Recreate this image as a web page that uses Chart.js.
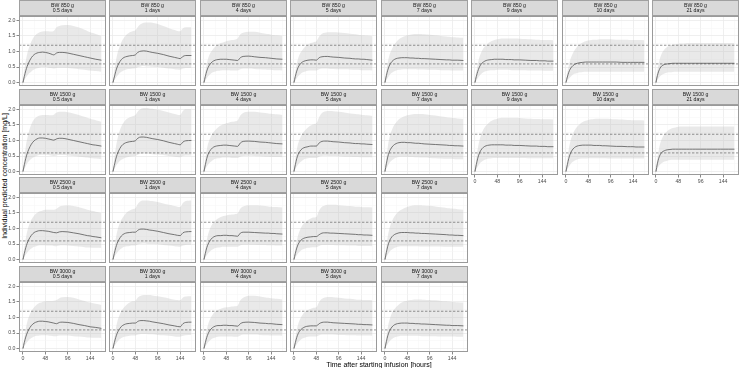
<!DOCTYPE html>
<html><head><meta charset="utf-8">
<script src="https://cdn.jsdelivr.net/npm/chart.js@4"></script>
<style>
html,body{margin:0;padding:0;background:#fff;width:740px;height:368px;overflow:hidden;font-family:"Liberation Sans",Arial,sans-serif;}
#wrap{position:relative;width:740px;height:368px;}
.strip{position:absolute;box-sizing:border-box;background:#d9d9d9;border:1px solid #a0a0a0;display:flex;flex-direction:column;justify-content:center;align-items:center;font-size:5.2px;line-height:5.4px;color:#1a1a1a;white-space:nowrap;will-change:transform;}
canvas{position:absolute;}
.ytitle{position:absolute;left:4px;top:175.5px;transform:translate(-50%,-50%) rotate(-90deg);font-size:7px;white-space:nowrap;color:#000;}
.xtitle{position:absolute;left:379px;top:363.5px;transform:translate(-50%,-50%);font-size:7px;white-space:nowrap;color:#000;will-change:transform;}
</style></head>
<body><div id="wrap">
<div class="ytitle">Individual predicted concentration [mg/L]</div>
<div class="xtitle">Time after starting infusion [hours]</div>
</div>
<script>
// ---- data ----
const hours = [0,3,6,9,12,18,24,30,36,42,48,54,60,66,72,78,84,96,108,120,132,138,144,150,156,168];
const xMajor = [0,48,96,144];
const xMinor = [24,72,120,168];
const yMajor = [0,0.5,1,1.5,2];
const yMinor = [0.25,0.75,1.25,1.75];
const targetLevels = [0.6,1.2];
const weights = ['850','1500','2500','3000'];
const ages = ['0.5','1','4','5','7','9','10','21'];
const xLimits = [-8.5,178];
const yLimits = [-0.11,2.14];

const med850_05=[0,0.2,0.38,0.52,0.63,0.8,0.9,0.95,0.97,0.98,0.97,0.95,0.92,0.89,0.95,0.97,0.97,0.95,0.91,0.87,0.83,0.81,0.79,0.77,0.75,0.72];
const upr850_05=[0.05,0.4,0.7,0.92,1.08,1.32,1.48,1.57,1.62,1.64,1.65,1.65,1.64,1.66,1.78,1.82,1.84,1.85,1.82,1.77,1.7,1.66,1.62,1.59,1.56,1.5];
const lwr850_05=[0,0.08,0.16,0.22,0.28,0.36,0.42,0.46,0.48,0.49,0.49,0.48,0.47,0.45,0.47,0.48,0.48,0.47,0.45,0.43,0.41,0.4,0.39,0.38,0.37,0.35];
const med850_1=[0,0.18,0.36,0.5,0.6,0.74,0.81,0.84,0.86,0.87,0.89,0.98,1.01,1.02,1.01,0.99,0.97,0.94,0.9,0.85,0.81,0.79,0.77,0.84,0.87,0.87];
const upr850_1=[0.05,0.38,0.68,0.9,1.06,1.3,1.45,1.55,1.62,1.65,1.68,1.8,1.88,1.92,1.93,1.93,1.92,1.88,1.82,1.75,1.69,1.66,1.65,1.75,1.78,1.78];
const lwr850_1=[0,0.08,0.15,0.21,0.27,0.35,0.4,0.43,0.44,0.45,0.46,0.5,0.52,0.53,0.52,0.52,0.51,0.5,0.48,0.45,0.43,0.42,0.41,0.45,0.47,0.47];
const med850_4=[0,0.2,0.37,0.49,0.57,0.67,0.72,0.74,0.75,0.75,0.75,0.74,0.73,0.72,0.71,0.8,0.84,0.85,0.83,0.81,0.8,0.79,0.78,0.77,0.76,0.75];
const upr850_4=[0.05,0.35,0.6,0.78,0.9,1.05,1.15,1.22,1.27,1.3,1.33,1.35,1.37,1.38,1.42,1.55,1.6,1.63,1.63,1.6,1.57,1.56,1.54,1.53,1.52,1.5];
const lwr850_4=[0,0.07,0.14,0.2,0.25,0.32,0.36,0.38,0.39,0.4,0.4,0.4,0.39,0.39,0.39,0.43,0.45,0.45,0.44,0.43,0.42,0.41,0.41,0.4,0.4,0.39];
const med850_5=[0,0.2,0.37,0.49,0.57,0.66,0.7,0.72,0.73,0.73,0.72,0.8,0.83,0.84,0.84,0.83,0.82,0.81,0.79,0.78,0.76,0.76,0.75,0.75,0.74,0.72];
const upr850_5=[0.05,0.35,0.6,0.78,0.9,1.05,1.15,1.22,1.27,1.3,1.33,1.48,1.57,1.6,1.62,1.62,1.62,1.61,1.59,1.57,1.55,1.54,1.53,1.52,1.51,1.49];
const lwr850_5=[0,0.07,0.14,0.2,0.25,0.32,0.36,0.38,0.39,0.39,0.39,0.43,0.45,0.45,0.45,0.44,0.44,0.43,0.43,0.42,0.41,0.41,0.4,0.4,0.4,0.39];
const med850_7=[0,0.22,0.4,0.53,0.62,0.72,0.77,0.79,0.8,0.8,0.8,0.79,0.79,0.78,0.78,0.77,0.77,0.76,0.75,0.74,0.73,0.73,0.72,0.72,0.72,0.71];
const upr850_7=[0.05,0.38,0.65,0.85,0.98,1.17,1.3,1.39,1.45,1.49,1.52,1.54,1.55,1.56,1.56,1.56,1.55,1.54,1.52,1.5,1.48,1.47,1.46,1.46,1.45,1.44];
const lwr850_7=[0,0.08,0.15,0.22,0.28,0.35,0.39,0.41,0.42,0.43,0.43,0.43,0.43,0.43,0.42,0.42,0.42,0.41,0.41,0.4,0.4,0.4,0.39,0.39,0.39,0.39];
const med850_9=[0,0.2,0.36,0.48,0.57,0.66,0.71,0.73,0.74,0.75,0.75,0.75,0.75,0.74,0.74,0.74,0.73,0.73,0.72,0.71,0.71,0.7,0.7,0.7,0.69,0.69];
const upr850_9=[0.05,0.35,0.6,0.79,0.92,1.1,1.21,1.29,1.34,1.37,1.39,1.41,1.42,1.42,1.42,1.42,1.42,1.41,1.4,1.39,1.38,1.38,1.37,1.37,1.37,1.36];
const lwr850_9=[0,0.07,0.14,0.2,0.26,0.33,0.37,0.39,0.4,0.4,0.41,0.41,0.41,0.41,0.41,0.4,0.4,0.4,0.4,0.39,0.39,0.39,0.39,0.38,0.38,0.38];
const med850_10=[0,0.18,0.33,0.43,0.5,0.58,0.62,0.64,0.65,0.66,0.66,0.66,0.66,0.66,0.66,0.66,0.66,0.66,0.66,0.65,0.65,0.65,0.65,0.65,0.65,0.65];
const upr850_10=[0.05,0.32,0.55,0.72,0.85,1.03,1.15,1.23,1.29,1.33,1.35,1.37,1.38,1.38,1.39,1.39,1.39,1.39,1.38,1.38,1.38,1.37,1.37,1.37,1.37,1.36];
const lwr850_10=[0,0.06,0.12,0.17,0.22,0.28,0.31,0.33,0.34,0.35,0.35,0.35,0.35,0.35,0.35,0.35,0.35,0.35,0.35,0.35,0.35,0.35,0.35,0.35,0.35,0.35];
const med850_21=[0,0.22,0.37,0.47,0.53,0.58,0.6,0.61,0.62,0.62,0.62,0.62,0.62,0.62,0.62,0.62,0.62,0.62,0.62,0.62,0.62,0.62,0.62,0.62,0.62,0.62];
const upr850_21=[0.05,0.38,0.62,0.8,0.92,1.06,1.14,1.19,1.22,1.24,1.25,1.26,1.26,1.27,1.27,1.27,1.27,1.27,1.27,1.27,1.27,1.27,1.27,1.27,1.27,1.27];
const lwr850_21=[0,0.08,0.15,0.2,0.24,0.29,0.32,0.33,0.34,0.35,0.35,0.35,0.35,0.35,0.35,0.35,0.35,0.35,0.35,0.35,0.35,0.35,0.35,0.35,0.35,0.35];

const med1500_05=[0,0.22,0.42,0.58,0.7,0.88,0.99,1.05,1.08,1.08,1.07,1.05,1.03,1.01,1.05,1.07,1.07,1.04,1.0,0.96,0.92,0.9,0.88,0.86,0.85,0.82];
const upr1500_05=[0.06,0.45,0.8,1.05,1.25,1.52,1.68,1.76,1.8,1.82,1.82,1.82,1.81,1.83,1.9,1.92,1.92,1.91,1.87,1.82,1.76,1.73,1.7,1.67,1.65,1.6];
const lwr1500_05=[0,0.09,0.18,0.26,0.32,0.41,0.47,0.51,0.53,0.54,0.54,0.53,0.52,0.5,0.52,0.53,0.53,0.52,0.5,0.48,0.46,0.45,0.44,0.43,0.42,0.4];
const med1500_1=[0,0.2,0.4,0.55,0.66,0.82,0.9,0.94,0.96,0.97,0.99,1.08,1.11,1.11,1.1,1.08,1.06,1.03,0.99,0.94,0.9,0.88,0.86,0.95,0.99,1.0];
const upr1500_1=[0.06,0.42,0.76,1.0,1.2,1.45,1.6,1.7,1.75,1.78,1.82,1.95,2.02,2.04,2.04,2.03,2.02,1.99,1.95,1.9,1.85,1.83,1.82,1.95,2.0,2.0];
const lwr1500_1=[0,0.09,0.17,0.24,0.3,0.38,0.43,0.46,0.48,0.49,0.5,0.55,0.57,0.58,0.57,0.57,0.56,0.55,0.53,0.5,0.48,0.47,0.46,0.5,0.52,0.52];
const med1500_4=[0,0.22,0.42,0.56,0.65,0.76,0.81,0.83,0.84,0.85,0.85,0.84,0.83,0.82,0.81,0.92,0.97,0.98,0.97,0.95,0.94,0.93,0.92,0.91,0.9,0.89];
const upr1500_4=[0.06,0.4,0.7,0.9,1.03,1.22,1.33,1.42,1.48,1.52,1.55,1.58,1.6,1.61,1.64,1.8,1.88,1.92,1.92,1.9,1.88,1.87,1.86,1.85,1.84,1.82];
const lwr1500_4=[0,0.08,0.16,0.23,0.28,0.36,0.41,0.43,0.44,0.45,0.45,0.45,0.44,0.44,0.44,0.48,0.5,0.51,0.5,0.49,0.48,0.48,0.47,0.47,0.47,0.46];
const med1500_5=[0,0.22,0.42,0.55,0.64,0.74,0.78,0.8,0.82,0.82,0.82,0.92,0.97,0.98,0.98,0.97,0.96,0.95,0.93,0.92,0.9,0.9,0.89,0.89,0.88,0.87];
const upr1500_5=[0.06,0.4,0.7,0.9,1.03,1.22,1.33,1.42,1.48,1.52,1.55,1.75,1.88,1.93,1.95,1.95,1.94,1.92,1.9,1.87,1.85,1.84,1.83,1.82,1.81,1.79];
const lwr1500_5=[0,0.08,0.16,0.23,0.28,0.36,0.41,0.43,0.44,0.44,0.44,0.48,0.5,0.51,0.51,0.5,0.5,0.49,0.48,0.48,0.47,0.47,0.46,0.46,0.46,0.45];
const med1500_7=[0,0.25,0.47,0.62,0.72,0.84,0.9,0.93,0.94,0.94,0.93,0.93,0.92,0.91,0.91,0.9,0.89,0.88,0.87,0.86,0.85,0.84,0.84,0.83,0.83,0.82];
const upr1500_7=[0.06,0.45,0.8,1.05,1.22,1.45,1.58,1.68,1.74,1.78,1.81,1.83,1.84,1.85,1.85,1.85,1.84,1.82,1.8,1.77,1.75,1.74,1.73,1.72,1.71,1.69];
const lwr1500_7=[0,0.09,0.18,0.26,0.32,0.4,0.45,0.47,0.48,0.48,0.48,0.47,0.47,0.46,0.46,0.45,0.45,0.44,0.43,0.42,0.41,0.41,0.41,0.4,0.4,0.4];
const med1500_9=[0,0.23,0.43,0.57,0.67,0.78,0.83,0.85,0.86,0.86,0.86,0.86,0.86,0.85,0.85,0.85,0.84,0.84,0.83,0.82,0.82,0.81,0.81,0.81,0.8,0.8];
const upr1500_9=[0.06,0.42,0.74,0.97,1.13,1.35,1.48,1.57,1.63,1.67,1.7,1.72,1.73,1.73,1.73,1.73,1.73,1.72,1.71,1.7,1.69,1.69,1.68,1.68,1.68,1.67];
const lwr1500_9=[0,0.08,0.16,0.23,0.29,0.36,0.4,0.42,0.43,0.44,0.44,0.44,0.44,0.44,0.44,0.44,0.44,0.44,0.44,0.43,0.43,0.43,0.43,0.43,0.43,0.43];
const med1500_10=[0,0.22,0.42,0.56,0.66,0.77,0.82,0.84,0.85,0.85,0.85,0.85,0.84,0.84,0.84,0.83,0.83,0.82,0.81,0.81,0.8,0.8,0.8,0.79,0.79,0.79];
const upr1500_10=[0.06,0.4,0.72,0.94,1.1,1.31,1.44,1.53,1.59,1.63,1.66,1.68,1.69,1.7,1.7,1.7,1.7,1.69,1.68,1.67,1.66,1.66,1.65,1.65,1.65,1.64];
const lwr1500_10=[0,0.08,0.15,0.22,0.28,0.35,0.39,0.41,0.42,0.42,0.43,0.43,0.43,0.43,0.43,0.43,0.43,0.42,0.42,0.42,0.42,0.42,0.42,0.42,0.42,0.42];
const med1500_21=[0,0.25,0.43,0.54,0.61,0.67,0.7,0.71,0.72,0.72,0.72,0.72,0.72,0.72,0.72,0.72,0.72,0.72,0.72,0.72,0.72,0.72,0.72,0.72,0.72,0.72];
const upr1500_21=[0.06,0.42,0.7,0.9,1.03,1.2,1.3,1.36,1.4,1.42,1.44,1.45,1.45,1.45,1.45,1.45,1.45,1.45,1.45,1.45,1.45,1.45,1.45,1.45,1.45,1.45];
const lwr1500_21=[0,0.09,0.17,0.23,0.27,0.32,0.35,0.37,0.38,0.38,0.38,0.38,0.38,0.38,0.38,0.38,0.38,0.38,0.38,0.38,0.38,0.38,0.38,0.38,0.38,0.38];

const med2500_05=[0,0.2,0.38,0.52,0.63,0.78,0.87,0.91,0.93,0.93,0.92,0.91,0.89,0.87,0.86,0.89,0.9,0.89,0.86,0.83,0.79,0.77,0.76,0.74,0.73,0.7];
const upr2500_05=[0.05,0.38,0.68,0.9,1.06,1.28,1.42,1.5,1.55,1.58,1.6,1.6,1.6,1.6,1.63,1.7,1.73,1.75,1.72,1.68,1.63,1.6,1.58,1.56,1.54,1.5];
const lwr2500_05=[0,0.08,0.16,0.22,0.28,0.36,0.41,0.44,0.46,0.46,0.46,0.45,0.45,0.44,0.43,0.45,0.46,0.45,0.44,0.42,0.4,0.39,0.39,0.38,0.38,0.37];
const med2500_1=[0,0.2,0.38,0.52,0.62,0.76,0.83,0.86,0.87,0.88,0.88,0.95,0.98,0.98,0.97,0.95,0.94,0.91,0.87,0.83,0.8,0.78,0.77,0.86,0.89,0.9];
const upr2500_1=[0.05,0.38,0.68,0.9,1.06,1.28,1.42,1.52,1.58,1.62,1.65,1.8,1.88,1.9,1.9,1.89,1.88,1.85,1.8,1.76,1.72,1.7,1.69,1.82,1.88,1.9];
const lwr2500_1=[0,0.08,0.16,0.22,0.28,0.36,0.41,0.43,0.44,0.45,0.45,0.49,0.51,0.52,0.51,0.5,0.5,0.49,0.47,0.45,0.43,0.42,0.41,0.45,0.47,0.48];
const med2500_4=[0,0.2,0.38,0.5,0.59,0.7,0.75,0.77,0.77,0.78,0.78,0.77,0.77,0.76,0.75,0.85,0.88,0.88,0.87,0.86,0.85,0.85,0.84,0.84,0.83,0.82];
const upr2500_4=[0.05,0.36,0.63,0.82,0.96,1.14,1.25,1.32,1.37,1.4,1.42,1.44,1.45,1.46,1.48,1.64,1.71,1.75,1.75,1.74,1.72,1.71,1.7,1.69,1.69,1.67];
const lwr2500_4=[0,0.07,0.14,0.2,0.25,0.32,0.37,0.39,0.4,0.41,0.41,0.41,0.41,0.41,0.41,0.46,0.48,0.48,0.48,0.47,0.47,0.46,0.46,0.46,0.45,0.45];
const med2500_5=[0,0.2,0.37,0.49,0.57,0.66,0.7,0.72,0.73,0.74,0.74,0.8,0.85,0.86,0.86,0.85,0.85,0.84,0.83,0.82,0.81,0.8,0.8,0.79,0.79,0.78];
const upr2500_5=[0.05,0.35,0.6,0.79,0.92,1.1,1.2,1.27,1.32,1.35,1.37,1.58,1.7,1.74,1.76,1.76,1.76,1.75,1.73,1.72,1.7,1.7,1.69,1.68,1.68,1.67];
const lwr2500_5=[0,0.07,0.14,0.2,0.25,0.32,0.36,0.38,0.39,0.4,0.4,0.44,0.47,0.47,0.47,0.47,0.47,0.46,0.46,0.45,0.45,0.44,0.44,0.44,0.44,0.43];
const med2500_7=[0,0.23,0.43,0.57,0.67,0.78,0.83,0.86,0.87,0.87,0.87,0.86,0.86,0.85,0.85,0.84,0.84,0.83,0.82,0.81,0.8,0.79,0.79,0.78,0.78,0.77];
const upr2500_7=[0.05,0.42,0.74,0.96,1.12,1.33,1.46,1.55,1.61,1.66,1.69,1.72,1.74,1.75,1.75,1.75,1.74,1.73,1.71,1.68,1.66,1.65,1.64,1.63,1.62,1.6];
const lwr2500_7=[0,0.08,0.16,0.23,0.29,0.36,0.4,0.42,0.43,0.43,0.43,0.43,0.43,0.43,0.43,0.42,0.42,0.42,0.42,0.42,0.41,0.41,0.41,0.41,0.41,0.41];

const med3000_05=[0,0.2,0.37,0.5,0.6,0.74,0.82,0.86,0.88,0.88,0.87,0.86,0.84,0.82,0.8,0.84,0.85,0.84,0.81,0.77,0.74,0.72,0.7,0.69,0.68,0.65];
const upr3000_05=[0.05,0.36,0.64,0.85,1.0,1.2,1.33,1.42,1.47,1.5,1.52,1.53,1.53,1.54,1.56,1.62,1.65,1.66,1.63,1.58,1.53,1.5,1.48,1.46,1.44,1.4];
const lwr3000_05=[0,0.08,0.15,0.21,0.27,0.34,0.39,0.41,0.42,0.43,0.43,0.42,0.41,0.4,0.4,0.42,0.42,0.42,0.4,0.39,0.37,0.36,0.36,0.35,0.35,0.34];
const med3000_1=[0,0.19,0.36,0.49,0.58,0.71,0.77,0.8,0.81,0.82,0.82,0.88,0.9,0.9,0.89,0.88,0.86,0.83,0.8,0.76,0.73,0.71,0.7,0.8,0.84,0.85];
const upr3000_1=[0.05,0.36,0.64,0.85,1.0,1.2,1.33,1.42,1.48,1.52,1.54,1.65,1.7,1.72,1.72,1.72,1.71,1.68,1.65,1.61,1.57,1.56,1.55,1.64,1.67,1.68];
const lwr3000_1=[0,0.08,0.15,0.21,0.27,0.34,0.38,0.4,0.41,0.42,0.42,0.45,0.47,0.47,0.47,0.46,0.46,0.44,0.43,0.41,0.39,0.38,0.38,0.41,0.43,0.44];
const med3000_4=[0,0.19,0.36,0.48,0.57,0.67,0.72,0.74,0.74,0.75,0.75,0.74,0.74,0.73,0.72,0.8,0.84,0.85,0.84,0.82,0.81,0.8,0.8,0.79,0.78,0.77];
const upr3000_4=[0.05,0.34,0.6,0.78,0.91,1.08,1.18,1.24,1.28,1.31,1.33,1.34,1.35,1.36,1.38,1.55,1.63,1.7,1.7,1.67,1.64,1.63,1.62,1.61,1.6,1.58];
const lwr3000_4=[0,0.07,0.14,0.2,0.25,0.32,0.36,0.38,0.39,0.39,0.39,0.39,0.39,0.38,0.38,0.42,0.45,0.45,0.45,0.44,0.43,0.43,0.42,0.42,0.42,0.41];
const med3000_5=[0,0.19,0.36,0.48,0.56,0.65,0.7,0.72,0.73,0.73,0.73,0.8,0.84,0.85,0.85,0.84,0.83,0.82,0.81,0.8,0.79,0.78,0.78,0.77,0.77,0.76];
const upr3000_5=[0.05,0.34,0.6,0.78,0.91,1.08,1.18,1.24,1.28,1.31,1.33,1.5,1.6,1.64,1.66,1.66,1.65,1.63,1.61,1.6,1.58,1.57,1.57,1.56,1.56,1.55];
const lwr3000_5=[0,0.07,0.14,0.2,0.25,0.32,0.36,0.38,0.39,0.39,0.39,0.43,0.45,0.45,0.45,0.45,0.45,0.44,0.44,0.43,0.43,0.42,0.42,0.42,0.42,0.41];
const med3000_7=[0,0.22,0.41,0.54,0.63,0.74,0.79,0.81,0.82,0.82,0.82,0.81,0.81,0.8,0.8,0.79,0.79,0.78,0.77,0.76,0.75,0.75,0.74,0.74,0.74,0.73];
const upr3000_7=[0.05,0.38,0.68,0.88,1.03,1.22,1.34,1.42,1.48,1.52,1.54,1.56,1.57,1.58,1.58,1.58,1.57,1.56,1.55,1.53,1.52,1.51,1.5,1.5,1.49,1.48];
const lwr3000_7=[0,0.08,0.15,0.22,0.27,0.34,0.38,0.4,0.41,0.41,0.41,0.41,0.41,0.41,0.41,0.4,0.4,0.4,0.4,0.39,0.39,0.39,0.39,0.39,0.38,0.38];

const panels = [
  ['850','0.5',med850_05,upr850_05,lwr850_05],['850','1',med850_1,upr850_1,lwr850_1],
  ['850','4',med850_4,upr850_4,lwr850_4],['850','5',med850_5,upr850_5,lwr850_5],
  ['850','7',med850_7,upr850_7,lwr850_7],['850','9',med850_9,upr850_9,lwr850_9],
  ['850','10',med850_10,upr850_10,lwr850_10],['850','21',med850_21,upr850_21,lwr850_21],
  ['1500','0.5',med1500_05,upr1500_05,lwr1500_05],['1500','1',med1500_1,upr1500_1,lwr1500_1],
  ['1500','4',med1500_4,upr1500_4,lwr1500_4],['1500','5',med1500_5,upr1500_5,lwr1500_5],
  ['1500','7',med1500_7,upr1500_7,lwr1500_7],['1500','9',med1500_9,upr1500_9,lwr1500_9],
  ['1500','10',med1500_10,upr1500_10,lwr1500_10],['1500','21',med1500_21,upr1500_21,lwr1500_21],
  ['2500','0.5',med2500_05,upr2500_05,lwr2500_05],['2500','1',med2500_1,upr2500_1,lwr2500_1],
  ['2500','4',med2500_4,upr2500_4,lwr2500_4],['2500','5',med2500_5,upr2500_5,lwr2500_5],
  ['2500','7',med2500_7,upr2500_7,lwr2500_7],
  ['3000','0.5',med3000_05,upr3000_05,lwr3000_05],['3000','1',med3000_1,upr3000_1,lwr3000_1],
  ['3000','4',med3000_4,upr3000_4,lwr3000_4],['3000','5',med3000_5,upr3000_5,lwr3000_5],
  ['3000','7',med3000_7,upr3000_7,lwr3000_7]
];

// ---- layout ----
const PW = 87, SH = 16, PH = 70;
const colLeft = ages.map((a,i)=>Math.round(19 + 90.45*i));
const rowTop = [0,89,177,266];
const FONT = "'Liberation Sans', Arial, sans-serif";
const majorGrid = '#ebebeb', minorGrid = '#f5f5f5';

const decor = {
  id:'decor',
  afterDatasetsDraw(chart){
    const {ctx, chartArea:a, scales} = chart;
    ctx.save();
    ctx.strokeStyle = '#4d4d4d'; ctx.lineWidth = 0.6; ctx.setLineDash([2.4,1.6]);
    targetLevels.forEach(v=>{
      const py = scales.y.getPixelForValue(v);
      ctx.beginPath(); ctx.moveTo(a.left,py); ctx.lineTo(a.right,py); ctx.stroke();
    });
    ctx.restore();
  },
  afterDraw(chart){
    const {ctx, chartArea:a} = chart;
    ctx.save();
    ctx.strokeStyle = '#9a9a9a'; ctx.lineWidth = 1;
    ctx.strokeRect(a.left+0.5, a.top+0.5, a.right-a.left-1, a.bottom-a.top-1);
    ctx.restore();
  }
};

const wrap = document.getElementById('wrap');
panels.forEach(([bw, age, med, upr, lwr])=>{
  const r = weights.indexOf(bw), c = ages.indexOf(age);
  const left = colLeft[c], top = rowTop[r];
  const showY = c === 0;
  const showX = !panels.some(q => weights.indexOf(q[0]) === r+1 && q[1] === age);
  const yW = showY ? 19 : 0, xH = showX ? 9 : 0;

  const s = document.createElement('div');
  s.className = 'strip';
  s.style.left = left+'px'; s.style.top = top+'px';
  s.style.width = PW+'px'; s.style.height = SH+'px';
  s.innerHTML = '<div>BW '+bw+' g</div><div>'+age+' days</div>';
  wrap.appendChild(s);

  const cv = document.createElement('canvas');
  cv.width = PW + yW; cv.height = PH + xH;
  cv.style.left = (left - yW)+'px'; cv.style.top = (top + SH)+'px';
  cv.style.width = (PW + yW)+'px'; cv.style.height = (PH + xH)+'px';
  wrap.appendChild(cv);

  const pts = arr => hours.map((h,i)=>({x:h, y:arr[i]}));
  new Chart(cv, {
    type:'line',
    data:{datasets:[
      {data:pts(lwr), borderWidth:0, pointRadius:0, fill:false, borderColor:'rgba(0,0,0,0)'},
      {data:pts(upr), borderWidth:0, pointRadius:0, fill:'-1', borderColor:'rgba(0,0,0,0)', backgroundColor:'rgba(195,195,195,0.36)'},
      {data:pts(med), borderWidth:0.8, pointRadius:0, fill:false, borderColor:'#1a1a1a'}
    ]},
    options:{
      responsive:false, animation:false, devicePixelRatio:1,
      layout:{padding:0},
      events:[],
      plugins:{legend:{display:false}, tooltip:{enabled:false}},
      elements:{line:{cubicInterpolationMode:'monotone'}},
      scales:{
        x:{type:'linear', min:xLimits[0], max:xLimits[1],
          afterBuildTicks:sc=>{ sc.ticks = xMajor.concat(xMinor).sort((a,b)=>a-b).map(v=>({value:v})); },
          afterFit:sc=>{ sc.height = xH; sc.paddingLeft=0; sc.paddingRight=0; sc.paddingTop=0; sc.paddingBottom=0; },
          border:{display:false},
          grid:{
            color:ctx=> (ctx.tick && xMajor.includes(ctx.tick.value)) ? majorGrid : minorGrid,
            lineWidth:ctx=> (ctx.tick && xMajor.includes(ctx.tick.value)) ? 0.8 : 0.5,
            drawTicks:showX, tickLength:2.5,
            tickColor:ctx=> (ctx.tick && xMajor.includes(ctx.tick.value)) ? '#555' : 'rgba(0,0,0,0)',
            tickWidth:0.7
          },
          ticks:{display:showX, autoSkip:false, maxRotation:0, minRotation:0, padding:0.5,
            color:'#4d4d4d', font:{size:5.2, family:FONT},
            callback:v=> xMajor.includes(v) ? String(v) : ''}
        },
        y:{type:'linear', min:yLimits[0], max:yLimits[1],
          afterBuildTicks:sc=>{ sc.ticks = yMajor.concat(yMinor).sort((a,b)=>a-b).map(v=>({value:v})); },
          afterFit:sc=>{ sc.width = yW; sc.paddingLeft=0; sc.paddingRight=0; sc.paddingTop=0; sc.paddingBottom=0; },
          border:{display:false},
          grid:{
            color:ctx=> (ctx.tick && yMajor.includes(ctx.tick.value)) ? majorGrid : minorGrid,
            lineWidth:ctx=> (ctx.tick && yMajor.includes(ctx.tick.value)) ? 0.8 : 0.5,
            drawTicks:showY, tickLength:2.5,
            tickColor:ctx=> (ctx.tick && yMajor.includes(ctx.tick.value)) ? '#555' : 'rgba(0,0,0,0)',
            tickWidth:0.7
          },
          ticks:{display:showY, autoSkip:false, padding:1,
            color:'#4d4d4d', font:{size:5.2, family:FONT},
            callback:v=> yMajor.includes(v) ? v.toFixed(1) : ''}
        }
      }
    },
    plugins:[decor]
  });
});
</script>
</body></html>
